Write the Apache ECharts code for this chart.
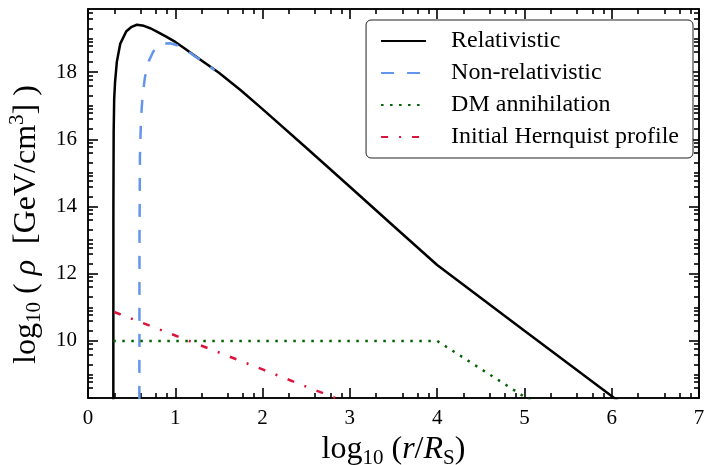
<!DOCTYPE html>
<html><head><meta charset="utf-8">
<script src="https://cdn.jsdelivr.net/npm/echarts@6/dist/echarts.min.js"></script>
<style>html,body{margin:0;padding:0;background:#fff}#c{width:704px;height:465px}</style>
</head><body><div id="c"></div>
<script>
// ---- data ----
const seriesNames = ['Relativistic', 'Non-relativistic', 'DM annihilation', 'Initial Hernquist profile'];
const relX = [0.290, 0.291, 0.294, 0.300, 0.310, 0.330, 0.370, 0.440, 0.500, 0.560, 0.640, 0.720, 0.800, 0.900, 1.000, 1.100, 1.200, 1.350, 1.500, 1.750, 2.000, 2.500, 3.000, 3.500, 4.000, 5.000, 6.040, 6.200];
const relY = [7.5, 14.0, 16.2, 17.2, 17.7, 18.3, 18.85, 19.22, 19.35, 19.41, 19.38, 19.30, 19.19, 19.05, 18.90, 18.72, 18.53, 18.26, 17.98, 17.46, 16.90, 15.75, 14.59, 13.42, 12.26, 10.30, 8.28, 7.97];
const nonRelX = [0.588, 0.590, 0.595, 0.607, 0.625, 0.653, 0.700, 0.750, 0.800, 0.860, 0.940, 1.020, 1.100, 1.200, 1.300, 1.450];
const nonRelY = [7.5, 13.0, 15.5, 16.6, 17.3, 17.86, 18.35, 18.62, 18.77, 18.85, 18.86, 18.80, 18.70, 18.52, 18.34, 18.06];
const dmX = [0.290, 4.000, 5.100];
const dmY = [10.00, 10.00, 8.17];
const hernX = [0.300, 1.000, 2.000, 3.000];
const hernY = [10.86, 10.16, 9.15, 8.13];
const xTickLabels = [0, 1, 2, 3, 4, 5, 6, 7];
const yTickLabels = [10, 12, 14, 16, 18];
const xRange = [0, 7];
const yRange = [8.3, 19.88];
const minorFractions = [Math.log10(2), Math.log10(4), Math.log10(6), Math.log10(8)];
const xMinor = [];
for (let n = 0; n < 7; n++) minorFractions.forEach(f => xMinor.push(n + f));
const yMinor = [];
for (let n = 8; n < 20; n++) {
  if (n % 2 === 1) yMinor.push(n);
  minorFractions.forEach(f => { const v = n + f; if (v > yRange[0] && v < yRange[1]) yMinor.push(v); });
}

// ---- chart ----
const FONT = 'Liberation Serif';
const pair = (xs, ys) => xs.map((x, i) => [x, ys[i]]);
const black = '#000';
const richName = {
  n: { fontFamily: FONT, fontSize: 32, lineHeight: 38, color: black },
  i: { fontFamily: FONT, fontSize: 32, lineHeight: 38, fontStyle: 'italic', color: black },
  s: { fontFamily: FONT, fontSize: 21, lineHeight: 18, verticalAlign: 'bottom', color: black },
  p: { fontFamily: FONT, fontSize: 21, lineHeight: 16, verticalAlign: 'top', color: black }
};
function baseAxis(extra) {
  return Object.assign({
    type: 'value',
    splitLine: { show: false },
    axisLine: { show: false, onZero: false },
    axisLabel: { show: false },
    axisTick: { show: false }
  }, extra);
}
const frameLine = { show: true, onZero: false, lineStyle: { color: black, width: 1.5 } };
const tk = (len, vals) => ({ show: true, inside: true, length: len, customValues: vals, lineStyle: { color: 'black', width: 1.6 } });
const MAJ = 10, MIN = 5;

const option = {
  animation: false,
  backgroundColor: '#fff',
  grid: { left: 88, right: 5, top: 9, bottom: 67, containLabel: false, outerBoundsMode: 'none' },
  xAxis: [
    baseAxis({
      position: 'bottom', min: xRange[0], max: xRange[1], interval: 1,
      axisLine: frameLine,
      axisTick: tk(MAJ, xTickLabels),
      axisLabel: { show: true, customValues: xTickLabels, margin: 10, fontFamily: FONT, fontSize: 21, color: black },
      name: '{n|log}{s|10}{n| (}{i|r}{n|/}{i|R}{s|S}{n|)}',
      nameLocation: 'middle', nameGap: 23,
      nameTextStyle: { rich: richName }
    }),
    baseAxis({ position: 'bottom', min: xRange[0], max: xRange[1], axisLine: frameLine, axisTick: tk(MIN, xMinor) }),
    baseAxis({ position: 'top', min: xRange[0], max: xRange[1], axisLine: frameLine, axisTick: tk(MAJ, xTickLabels) }),
    baseAxis({ position: 'top', min: xRange[0], max: xRange[1], axisLine: frameLine, axisTick: tk(MIN, xMinor) })
  ],
  yAxis: [
    baseAxis({
      position: 'left', min: yRange[0], max: yRange[1],
      axisLine: frameLine,
      axisTick: tk(MAJ, yTickLabels),
      axisLabel: { show: true, customValues: yTickLabels, margin: 11, fontFamily: FONT, fontSize: 21, color: black },
      name: '{n|log}{s|10}{n| ( }{i|ρ}{n|  [GeV/cm}{p|3}{n|] )}',
      nameLocation: 'middle', nameGap: 40,
      nameTextStyle: { rich: richName, padding: [0, 42, 0, 0] }
    }),
    baseAxis({ position: 'left', min: yRange[0], max: yRange[1], axisLine: frameLine, axisTick: tk(MIN, yMinor) }),
    baseAxis({ position: 'right', min: yRange[0], max: yRange[1], axisLine: frameLine, axisTick: tk(MAJ, yTickLabels) }),
    baseAxis({ position: 'right', min: yRange[0], max: yRange[1], axisLine: frameLine, axisTick: tk(MIN, yMinor) })
  ],
  legend: {
    show: true, orient: 'vertical', right: 11, top: 20,
    data: seriesNames,
    itemWidth: 45, itemHeight: 14, itemGap: 8,
    padding: [9, 14, 9, 14],
    borderColor: '#222', borderWidth: 1, borderRadius: 5,
    backgroundColor: '#fff',
    itemStyle: { opacity: 0 },
    textStyle: { fontFamily: FONT, fontSize: 24, lineHeight: 20, color: black, padding: [0, 0, 0, 20] }
  },
  series: [
    { name: seriesNames[0], type: 'line', data: pair(relX, relY), symbol: 'none', smooth: false, clip: true,
      lineStyle: { color: '#000', width: 2.5 }, itemStyle: { color: '#000' }, z: 2 },
    { name: seriesNames[1], type: 'line', data: pair(nonRelX, nonRelY), symbol: 'none', clip: true,
      lineStyle: { color: '#6495ED', width: 2.5, type: [13, 13] }, itemStyle: { color: '#6495ED' }, z: 3 },
    { name: seriesNames[2], type: 'line', data: pair(dmX, dmY), symbol: 'none', clip: true,
      lineStyle: { color: '#006400', width: 2.5, type: [2.5, 6.5] }, itemStyle: { color: '#006400' }, z: 4 },
    { name: seriesNames[3], type: 'line', data: pair(hernX, hernY), symbol: 'none', clip: true,
      lineStyle: { color: '#DC143C', width: 2.5, type: [7, 11, 2, 11] }, itemStyle: { color: '#DC143C' }, z: 5 }
  ]
};
const chart = echarts.init(document.getElementById('c'), null, { renderer: 'canvas' });
chart.setOption(option);
</script>
</body></html>
